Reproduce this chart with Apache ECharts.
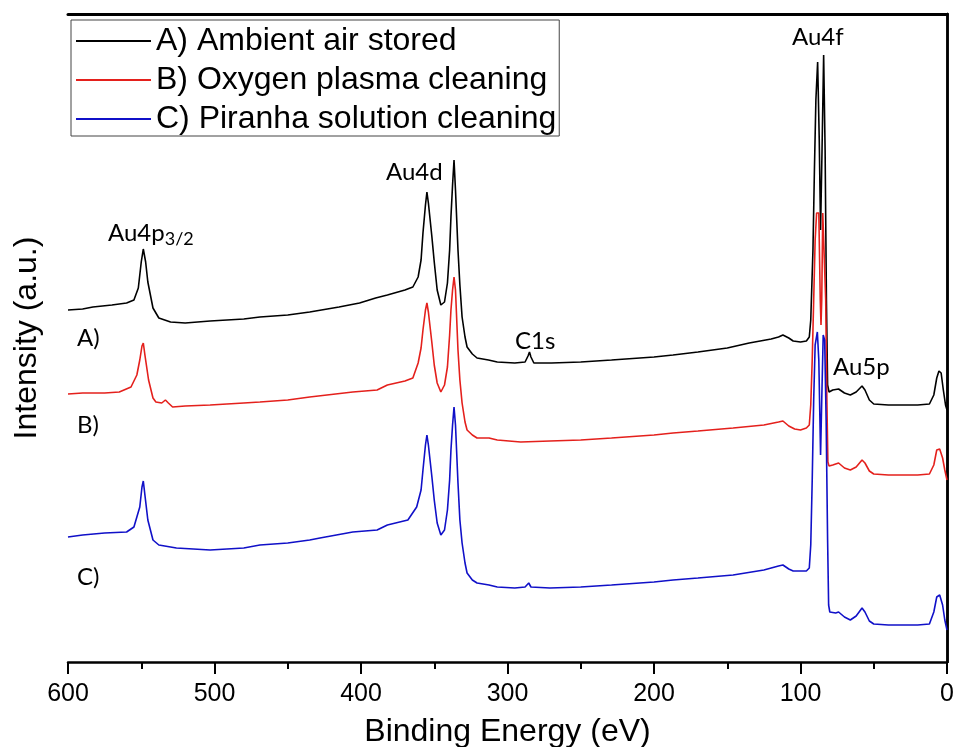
<!DOCTYPE html>
<html>
<head>
<meta charset="utf-8">
<title>XPS survey</title>
<script src="https://cdn.jsdelivr.net/npm/echarts@6/dist/echarts.min.js"></script>
<style>
  html, body { margin: 0; padding: 0; background: #fff; }
  #chart { width: 957px; height: 747px; }
</style>
</head>
<body>
<div id="chart"></div>
<script>
// binding energy (eV) and intensity (a.u.)
var energyA = [600,590,583,570,560,555,552,550,548.6,547,545.5,542,538,530,520,503,480,469,450,435,415,401,390,382,370,364.6,361,359,357.7,356,355,354,351.6,350,348,345.5,344.5,343,341,339.5,338.6,337.5,336.5,335.5,333.8,332.5,331,329,327.6,324,320.8,313,307,295,288,286,285,284,282,270,250,229,200,187,170,150,135,120,115,112,108,105,100,96,94,93,91.5,90.5,89.5,88.3,87.2,86.3,85.3,84.2,83.2,82.3,81.5,80.5,78,74,70,66,62,58,56,53,50,40,30,20,12,9,7,5.5,4,2.5,1,0];
var intensityA = [352,353,355,357,359,362,374,400,413,400,380,354,344,340,339,341,343,345,347,350,355,359,364,367,372,375,385,402,429,457,470,459,425,400,372,357,355,360,379,412,445,477,502,472,412,377,345,325,315,308,304,302,300,299,300,306,310,305,299,299,300,302,305,307,310,314,319,323,325,327,324,321,320,321,325,342,412,492,562,600,522,432,512,607,512,362,277,270,272,273,269,267,270,276,272,262,258,257,257,257,258,267,284,291,289,272,257,252];

var energyB = [600,590,575,565,557,553,551,549.5,548.6,547.5,545,542,540,536,533.5,531.5,528.6,520,503,480,469,450,435,405.6,389,382,370,364.6,361,359,357.7,356,355,354,351.6,350,348,345.5,344.5,343,341,339.5,338.6,337.5,336.5,335.5,333.8,332.5,331,329,327.6,324,320.8,312.6,307,291,271,250,229,200,187,170,146,125,115,112,108,104,100,96,94,93,92,91,90,89,87.5,86.5,86,85.5,84.8,83.5,82.8,82,81.3,80.5,78,74,70,66,62,58,56,53,50,40,30,20,12,9,7,5,3,1.5,0];
var intensityB = [268,269,269,270,275,287,302,316,319,307,282,264,260,259,262,259,255,256,257,259,260,262,265,270,272,277,281,284,299,314,332,352,359,350,319,297,279,270,269,277,295,327,352,372,385,372,312,282,259,240,232,227,224,224,222,220,221,222,224,227,229,231,234,237,240,241,236,233,232,234,237,257,302,362,422,449,449,362,337,362,449,449,362,262,200,196,197,199,194,192,195,202,199,191,188,187,187,187,188,197,212,213,204,192,182];

var energyC = [600,590,575,560,555,553,551,549.5,548.6,547.5,545.5,542,538,526,503,480,469,450,435,428,405.6,389,382,368,362,359,357.7,356,355,354,351.6,350,348,345.5,344.5,343,341,339.5,338.6,337.5,336.5,335.5,333.8,332.5,331,329,327.6,324,320.8,312.6,307,295,288,285.5,284,271,250,229,200,187,170,146,125,115,112,108,105,100,96,94,93,92,91,90,88.5,87.5,86.3,85.5,84.5,83.5,82.5,81.5,80.8,80,76,74,70,66,62,58,56,53,50,40,30,20,12,9,7,5,3,1.5,0];
var intensityC = [125,127,129,130,135,145,155,175,181,167,142,122,117,114,112,114,117,119,122,124,130,132,137,142,155,172,192,217,227,217,185,162,139,127,125,132,152,182,212,237,255,237,179,142,119,99,89,82,79,77,75,74,75,79,75,74,75,77,80,82,84,87,92,96,97,93,91,91,91,94,117,182,262,317,330,302,207,262,327,322,242,122,57,50,49,50,45,42,46,54,50,41,38,37,37,37,38,50,65,67,57,42,32];

var seriesNames = ['A) Ambient air stored', 'B) Oxygen plasma cleaning', 'C) Piranha solution cleaning'];
var seriesColors = ['#000000', '#e4201c', '#1010c8'];

function pairs(xs, ys) {
  return xs.map(function (x, i) { return [x, ys[i]]; });
}

var myChart = echarts.init(document.getElementById('chart'));

var seriesList = [
  pairs(energyA, intensityA),
  pairs(energyB, intensityB),
  pairs(energyC, intensityC)
].map(function (d, i) {
  return {
    name: seriesNames[i],
    type: 'line',
    data: d,
    showSymbol: false,
    silent: true,
    lineStyle: { color: seriesColors[i], width: 1.6 },
    itemStyle: { color: seriesColors[i] }
  };
});

var sansFont = '"Liberation Sans", Arial, sans-serif';
var peakFont = 'Lato, "Open Sans", sans-serif';

function peakText(x, y, text) {
  return { type: 'text', x: x, y: y, style: { text: text, fontFamily: peakFont, fontSize: 24, fill: '#000', verticalAlign: 'middle' } };
}

var option = {
  animation: false,
  backgroundColor: '#fff',
  // keep the plot box fixed, labels may sit close to the edge
  grid: { left: 68, right: 10, top: 14, bottom: 85, outerBoundsMode: 'none' },
  legend: {
    data: seriesNames,
    orient: 'vertical',
    left: 71,
    top: 20,
    icon: 'rect',
    itemWidth: 75,
    itemHeight: 2,
    itemGap: 7,
    padding: [5, 3, 1, 5],
    borderColor: '#444',
    borderWidth: 1,
    selectedMode: false,
    textStyle: { fontFamily: sansFont, fontSize: 32, color: '#000' }
  },
  xAxis: [{
    type: 'value',
    inverse: true,
    min: 0,
    max: 600,
    interval: 100,
    name: 'Binding Energy (eV)',
    nameLocation: 'middle',
    nameGap: 54,
    nameTextStyle: { fontFamily: sansFont, fontSize: 32, color: '#000' },
    axisLine: { lineStyle: { color: '#000', width: 2.5 } },
    axisTick: { show: true, inside: false, length: 12, lineStyle: { color: '#000', width: 2 } },
    minorTick: { show: true, splitNumber: 2, length: 7, lineStyle: { color: '#000', width: 2 } },
    axisLabel: { fontFamily: sansFont, fontSize: 25, color: '#000', margin: 20 },
    splitLine: { show: false }
  }, {
    type: 'value',
    position: 'top',
    inverse: true,
    min: 0,
    max: 600,
    axisLine: { show: true, onZero: false, lineStyle: { color: '#000', width: 3 } },
    axisTick: { show: false },
    axisLabel: { show: false },
    splitLine: { show: false }
  }],
  yAxis: [{
    type: 'value',
    min: 0,
    max: 648,
    name: 'Intensity (a.u.)',
    nameLocation: 'middle',
    nameGap: 25,
    nameTextStyle: { fontFamily: sansFont, fontSize: 32, color: '#000' },
    axisLine: { show: true, lineStyle: { color: '#000', width: 2.5 } },
    axisTick: { show: false },
    axisLabel: { show: false },
    splitLine: { show: false }
  }, {
    type: 'value',
    position: 'right',
    min: 0,
    max: 648,
    axisLine: { show: true, onZero: false, lineStyle: { color: '#000', width: 2.5 } },
    axisTick: { show: false },
    axisLabel: { show: false },
    splitLine: { show: false }
  }],
  series: seriesList,
  graphic: [
    { type: 'text', x: 108, y: 233, style: { text: '{a|Au4p}{b|3/2}', verticalAlign: 'middle', rich: { a: { fontFamily: peakFont, fontSize: 24, fill: '#000' }, b: { fontFamily: peakFont, fontSize: 18, fill: '#000', padding: [13, 0, 0, 0] } } } },
    peakText(386, 172, 'Au4d'),
    peakText(515, 341, 'C1s'),
    peakText(792, 37, 'Au4f'),
    peakText(833, 367, 'Au5p'),
    peakText(77, 338, 'A)'),
    peakText(77, 425, 'B)'),
    peakText(77, 577, 'C)')
  ]
};

myChart.setOption(option);
</script>
</body>
</html>
